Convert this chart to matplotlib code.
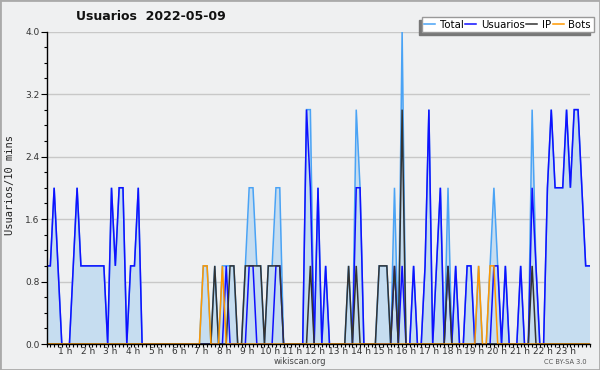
import numpy as np
import matplotlib
matplotlib.use("Agg")
import matplotlib.pyplot as plt
from matplotlib.patches import Rectangle
from matplotlib.lines import Line2D
from matplotlib.ticker import MultipleLocator

title = "Usuarios  2022-05-09"
ylabel = "Usuarios/10 mins"
series_names = ["Total", "Usuarios", "IP", "Bots"]
hour_labels = ["%d h" % h for h in range(1, 24)]
y_ticks = [0.0, 0.8, 1.6, 2.4, 3.2, 4.0]

# one value per 10 minutes, one row = one hour (00:00 .. 23:40)
total = [
    1, 1, 2, 1, 0, 0,
    0, 1, 2, 1, 1, 1,
    1, 1, 1, 1, 0, 2,
    1, 2, 2, 0, 1, 1,
    2, 0, 0, 0, 0, 0,
    0, 0, 0, 0, 0, 0,
    0, 0, 0, 0, 0, 1,
    1, 0, 1, 0, 1, 1,
    1, 1, 0, 0, 1, 2,
    2, 1, 1, 0, 1, 1,
    2, 2, 0, 0, 0, 0,
    0, 0, 3, 3, 0, 2,
    0, 1, 0, 0, 0, 0,
    0, 1, 0, 3, 2, 0,
    0, 0, 0, 1, 1, 1,
    0, 2, 0, 4, 0, 0,
    1, 0, 0, 1, 3, 0,
    1, 2, 0, 2, 0, 1,
    0, 0, 1, 1, 0, 1,
    0, 0, 1, 2, 1, 0,
    1, 0, 0, 0, 1, 0,
    0, 3, 1, 0, 0, 2,
    3, 2, 2, 2, 3, 2,
    3, 3, 2, 1, 1,
]

usuarios = [
    1, 1, 2, 1, 0, 0,
    0, 1, 2, 1, 1, 1,
    1, 1, 1, 1, 0, 2,
    1, 2, 2, 0, 1, 1,
    2, 0, 0, 0, 0, 0,
    0, 0, 0, 0, 0, 0,
    0, 0, 0, 0, 0, 0,
    0, 0, 0, 0, 0, 1,
    0, 0, 0, 0, 0, 1,
    1, 0, 0, 0, 0, 0,
    1, 1, 0, 0, 0, 0,
    0, 0, 3, 2, 0, 2,
    0, 1, 0, 0, 0, 0,
    0, 0, 0, 2, 2, 0,
    0, 0, 0, 0, 0, 0,
    0, 1, 0, 1, 0, 0,
    1, 0, 0, 1, 3, 0,
    1, 2, 0, 1, 0, 1,
    0, 0, 1, 1, 0, 0,
    0, 0, 0, 1, 1, 0,
    1, 0, 0, 0, 1, 0,
    0, 2, 1, 0, 0, 2,
    3, 2, 2, 2, 3, 2,
    3, 3, 2, 1, 1,
]

ip = [
    0, 0, 0, 0, 0, 0,
    0, 0, 0, 0, 0, 0,
    0, 0, 0, 0, 0, 0,
    0, 0, 0, 0, 0, 0,
    0, 0, 0, 0, 0, 0,
    0, 0, 0, 0, 0, 0,
    0, 0, 0, 0, 0, 0,
    0, 0, 1, 0, 0, 0,
    1, 1, 0, 0, 1, 1,
    1, 1, 1, 0, 1, 1,
    1, 1, 0, 0, 0, 0,
    0, 0, 0, 1, 0, 0,
    0, 0, 0, 0, 0, 0,
    0, 1, 0, 1, 0, 0,
    0, 0, 0, 1, 1, 1,
    0, 1, 0, 3, 0, 0,
    0, 0, 0, 0, 0, 0,
    0, 0, 0, 1, 0, 0,
    0, 0, 0, 0, 0, 0,
    0, 0, 0, 0, 0, 0,
    0, 0, 0, 0, 0, 0,
    0, 1, 0, 0, 0, 0,
    0, 0, 0, 0, 0, 0,
    0, 0, 0, 0, 0,
]

bots = [
    0, 0, 0, 0, 0, 0,
    0, 0, 0, 0, 0, 0,
    0, 0, 0, 0, 0, 0,
    0, 0, 0, 0, 0, 0,
    0, 0, 0, 0, 0, 0,
    0, 0, 0, 0, 0, 0,
    0, 0, 0, 0, 0, 1,
    1, 0, 0, 0, 1, 0,
    0, 0, 0, 0, 0, 0,
    0, 0, 0, 0, 0, 0,
    0, 0, 0, 0, 0, 0,
    0, 0, 0, 0, 0, 0,
    0, 0, 0, 0, 0, 0,
    0, 0, 0, 0, 0, 0,
    0, 0, 0, 0, 0, 0,
    0, 0, 0, 0, 0, 0,
    0, 0, 0, 0, 0, 0,
    0, 0, 0, 0, 0, 0,
    0, 0, 0, 0, 0, 1,
    0, 0, 1, 1, 0, 0,
    0, 0, 0, 0, 0, 0,
    0, 0, 0, 0, 0, 0,
    0, 0, 0, 0, 0, 0,
    0, 0, 0, 0, 0,
]

colors = ["#4aa3f5", "#1010ff", "#333333", "#ff9900"]
fill_color = "#c6ddf0"
bg = "#eff0f1"

W, H = 600, 370
fig = plt.figure(figsize=(6, 3.7), dpi=100, facecolor=bg)

# plot area in pixels
x0, x1, ytop, ybot = 46.5, 589.5, 31.5, 344
ax = fig.add_axes([x0 / W, 1 - ybot / H, (x1 - x0) / W, (ybot - ytop) / H])
ax.set_facecolor(bg)

x = np.arange(len(total))
ax.fill_between(x, total, 0, color=fill_color, lw=0, zorder=2)
for vals, c in zip([total, usuarios, ip, bots], colors):
    ax.plot(x, vals, color=c, lw=1.1, zorder=3, solid_joinstyle="miter")

ax.set_xlim(0, len(total) - 1)
ax.set_ylim(0, 4)

ax.set_yticks(y_ticks)
ax.set_yticklabels(["%.1f" % v for v in y_ticks], fontsize=6.5, color="#333333")
ax.yaxis.set_minor_locator(MultipleLocator(0.2))
ax.tick_params(axis="y", which="major", length=4, width=0.8, pad=1)
ax.tick_params(axis="y", which="minor", length=2.5, width=0.8)
ax.grid(axis="y", color="#c8c8c8", lw=1, zorder=1)
ax.set_axisbelow(True)

# hour labels sit a bit left of the hour mark, like the original
step = (x1 - x0) / (len(total) - 1)
label_pos = [(42.25 + 22.75 * h - x0) / step for h in range(1, 24)]
ax.set_xticks(label_pos)
ax.set_xticklabels(hour_labels, fontsize=6.5, color="#333333")
ax.set_xticks(x, minor=True)
ax.tick_params(axis="x", which="major", length=0, pad=2)
ax.tick_params(axis="x", which="minor", length=2.5, width=0.8)

for s in ["top", "right"]:
    ax.spines[s].set_visible(False)
for s in ["left", "bottom"]:
    ax.spines[s].set_linewidth(1)
    ax.spines[s].set_zorder(5)

fig.text(10 / W, 1 - 185 / H, ylabel, rotation=90, ha="center", va="center",
         fontsize=7.5, family="DejaVu Sans Mono", color="#222222")
fig.text(151 / W, 1 - 16 / H, title, ha="center", va="center",
         fontsize=9, fontweight="bold", color="#111111")
fig.text(300 / W, 1 - 361 / H, "wikiscan.org", ha="center", va="center",
         fontsize=6, color="#444444")
fig.text(587 / W, 1 - 362 / H, "CC BY-SA 3.0", ha="right", va="center",
         fontsize=4.8, color="#555555")

handles = [Line2D([], [], color=c, lw=1.1) for c in colors]
leg = fig.legend(handles, series_names, ncol=4, loc="upper right",
                 bbox_to_anchor=(593.5 / W, 1 - 17 / H), fontsize=7.3,
                 handlelength=1.1, handletextpad=0.45, columnspacing=0.15,
                 borderpad=0.25, borderaxespad=0, fancybox=False,
                 framealpha=1, edgecolor="#999999",
                 shadow={"ox": -2.2, "oy": -2.2, "color": "#777777", "alpha": 1})
leg.get_frame().set_linewidth(1)

fig.patches.append(Rectangle((0, 0), 1, 1, transform=fig.transFigure,
                             fill=False, edgecolor="#aaaaaa", lw=2))

fig.savefig("out.png", dpi=100, facecolor=bg)
